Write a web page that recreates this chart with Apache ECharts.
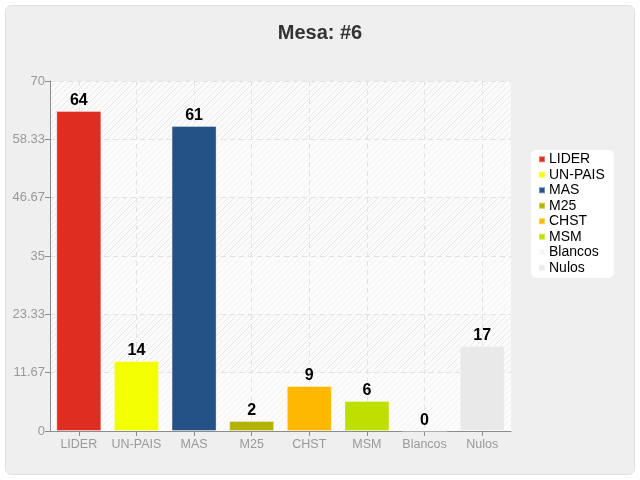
<!DOCTYPE html>
<html><head><meta charset="utf-8">
<script src="https://cdn.jsdelivr.net/npm/echarts@6/dist/echarts.min.js"></script>
<style>html,body{margin:0;padding:0;background:#fff}#c{width:640px;height:480px}</style>
</head><body><div id="c"></div>
<script>
const categories = ['LIDER','UN-PAIS','MAS','M25','CHST','MSM','Blancos','Nulos'];
const values = [64, 14, 61, 2, 9, 6, 0, 17];
const colors = ['#e02d22','#f2ff00','#245287','#b3b300','#ffb800','#bfdf00','#f6f6f6','#e9e9e9'];
const yMax = 70;
const yTicks = 6;

function makePattern(bg, line) {
  const c = document.createElement('canvas');
  c.width = 6; c.height = 6;
  const g = c.getContext('2d');
  g.fillStyle = bg; g.fillRect(0,0,6,6);
  g.strokeStyle = line; g.lineWidth = 1;
  g.beginPath();
  g.moveTo(0,6); g.lineTo(6,0);
  g.moveTo(-3,3); g.lineTo(3,-3);
  g.moveTo(3,9); g.lineTo(9,3);
  g.stroke();
  return {image: c, repeat: 'repeat'};
}
const patA = makePattern('#fbfbfb', '#e8e8e8');
const patB = makePattern('#fcfcfc', '#f2f2f2');

const series = categories.map((name, i) => ({
  name: name,
  type: 'bar',
  stack: 'all',
  barWidth: 45,
  data: values.map((v, j) => j === i ? v : '-'),
  itemStyle: {color: colors[i], borderColor: 'rgba(255,255,255,0.35)', borderWidth: 1},
  label: {show: true, position: 'top', color: '#000', fontWeight: 'bold', fontSize: 16,
          fontFamily: '"Liberation Sans",Arial,sans-serif', distance: 2}
}));

const chart = echarts.init(document.getElementById('c'), null, {renderer: 'canvas'});
chart.setOption({
  animation: false,
  backgroundColor: '#fff',
  graphic: [{
    type: 'rect', z: -10, silent: true,
    shape: {x: 5.5, y: 5.5, width: 629, height: 469, r: 6},
    style: {fill: '#efefef', stroke: '#e2e2e2', lineWidth: 1}
  }],
  title: {
    text: 'Mesa: #6', left: 'center', top: 18,
    textStyle: {fontSize: 20, fontWeight: 'bold', color: '#333',
      fontFamily: '"Liberation Sans",Arial,sans-serif'}
  },
  legend: {
    orient: 'vertical', left: 531, top: 150,
    backgroundColor: '#fff', borderRadius: 5, padding: [2, 9, 3, 7],
    icon: 'rect', itemWidth: 6, itemHeight: 6, itemGap: 1,
    textStyle: {fontSize: 14, color: '#000', lineHeight: 14.5,
      fontFamily: '"Liberation Sans",Arial,sans-serif', padding: [0,0,0,-1]},
    data: categories
  },
  grid: {left: 50, right: 129, top: 81, bottom: 49, containLabel: false},
  xAxis: {
    type: 'category', data: categories,
    axisLine: {lineStyle: {color: '#8c8c8c'}},
    axisTick: {show: true, alignWithLabel: true, length: 5, lineStyle: {color: '#8c8c8c'}},
    axisLabel: {color: '#999', fontSize: 12.5, margin: 7, interval: 0,
      fontFamily: '"Liberation Sans",Arial,sans-serif'},
    splitLine: {show: true, interval: 0, alignWithLabel: true, lineStyle: {color: '#e2e2e2', type: [5, 4]}}
  },
  yAxis: {
    type: 'value', min: 0, max: yMax, interval: yMax / yTicks,
    axisLine: {show: true, lineStyle: {color: '#8c8c8c'}},
    axisTick: {show: true, length: 5, lineStyle: {color: '#8c8c8c'}},
    axisLabel: {color: '#999', fontSize: 13, margin: 5,
      fontFamily: '"Liberation Sans",Arial,sans-serif',
      formatter: v => String(Math.round(v * 100) / 100)},
    splitLine: {show: true, lineStyle: {color: '#e2e2e2', type: [5, 4]}},
    splitArea: {show: true, areaStyle: {color: [patB, patA]}}
  },
  series: series
});
</script></body></html>
